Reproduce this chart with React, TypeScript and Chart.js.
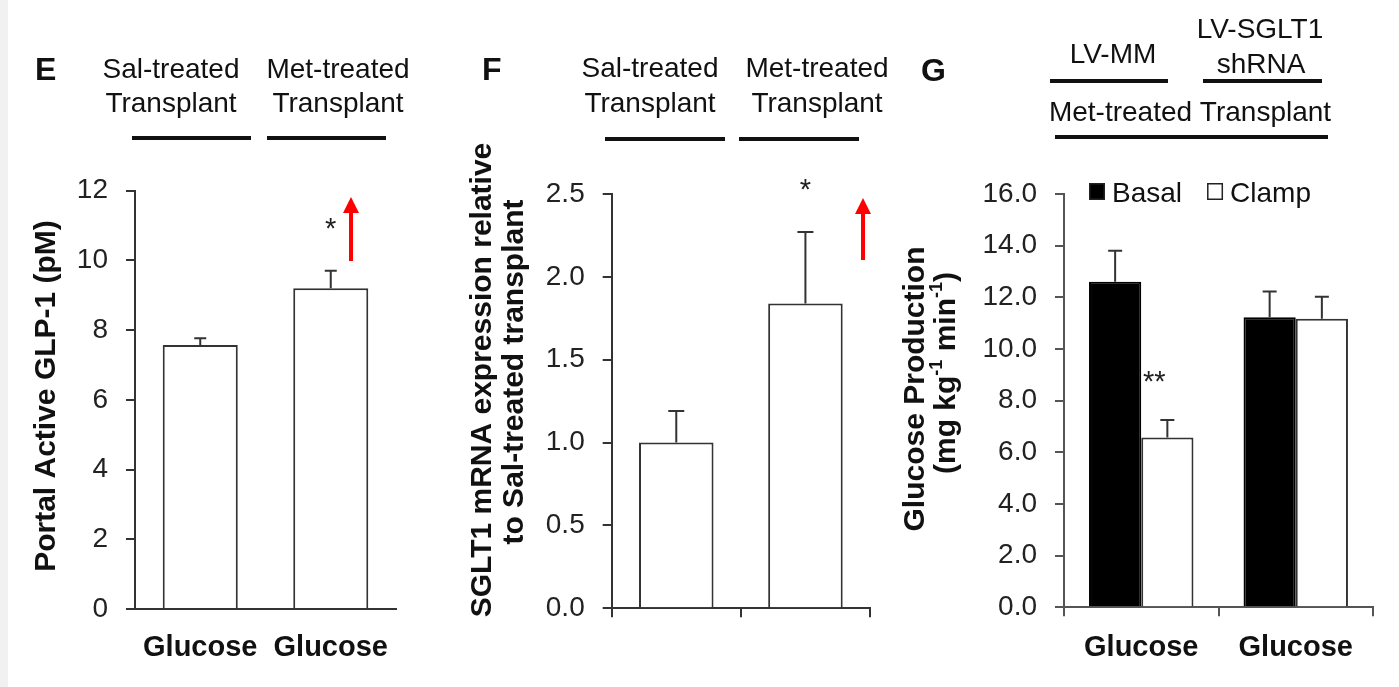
import React, { useEffect, useRef } from 'react';
import { Chart, registerables } from 'chart.js';

Chart.register(...registerables);

const FONT = "'Liberation Sans', Arial, Helvetica, sans-serif";
const PAGE_W = 1399;
const PAGE_H = 687;
const Y_W = 100;
const X_H = 60;

// ---------- Panel E data ----------
const eCategories = ['Glucose', 'Glucose'];
const eHeaders = [['Sal-treated', 'Transplant'], ['Met-treated', 'Transplant']];
const eValues = [7.57, 9.2];
const eErrors = [0.2, 0.5];
const eSignificance = ['', '*'];
const eYMax = 12;
const eYStep = 2;
const eYTitle = ['Portal Active GLP-1 (pM)'];

// ---------- Panel F data ----------
const fCategories = ['Sal-treated Transplant', 'Met-treated Transplant'];
const fHeaders = [['Sal-treated', 'Transplant'], ['Met-treated', 'Transplant']];
const fValues = [1.0, 1.84];
const fErrors = [0.19, 0.43];
const fSignificance = ['', '*'];
const fYMax = 2.5;
const fYStep = 0.5;
const fYTitle = ['SGLT1 mRNA expression relative', 'to Sal-treated transplant'];

// ---------- Panel G data ----------
const gCategories = ['Glucose', 'Glucose'];
const gGroupHeaders = [['LV-MM'], ['LV-SGLT1', 'shRNA']];
const gOuterHeader = 'Met-treated Transplant';
const gSeriesNames = ['Basal', 'Clamp'];
const gBasal = [12.6, 11.23];
const gBasalErrors = [1.2, 1.0];
const gClamp = [6.57, 11.17];
const gClampErrors = [0.68, 0.85];
const gClampSignificance = ['**', ''];
const gYMax = 16;
const gYStep = 2;

type Seg = { t: string; sup?: boolean };

function drawVText(ctx: CanvasRenderingContext2D, segs: Seg[], cx: number, cy: number, size: number) {
  ctx.save();
  ctx.translate(cx, cy);
  ctx.rotate(-Math.PI / 2);
  ctx.fillStyle = '#111';
  ctx.textBaseline = 'middle';
  ctx.textAlign = 'left';
  const fontFor = (s: Seg) => `bold ${s.sup ? Math.round(size * 0.6) : size}px ${FONT}`;
  let total = 0;
  const widths = segs.map((s) => {
    ctx.font = fontFor(s);
    const w = ctx.measureText(s.t).width;
    total += w;
    return w;
  });
  let x = -total / 2;
  segs.forEach((s, i) => {
    ctx.font = fontFor(s);
    ctx.fillText(s.t, x, s.sup ? -size * 0.32 : 0);
    x += widths[i];
  });
  ctx.restore();
}

function drawText(ctx: CanvasRenderingContext2D, text: string, x: number, y: number, font: string, align: CanvasTextAlign = 'center', color = '#111') {
  ctx.save();
  ctx.font = font;
  ctx.fillStyle = color;
  ctx.textAlign = align;
  ctx.textBaseline = 'alphabetic';
  ctx.fillText(text, x, y);
  ctx.restore();
}

function hLine(ctx: CanvasRenderingContext2D, x1: number, x2: number, y: number) {
  ctx.save();
  ctx.strokeStyle = '#111';
  ctx.lineWidth = 4;
  ctx.beginPath();
  ctx.moveTo(x1, y);
  ctx.lineTo(x2, y);
  ctx.stroke();
  ctx.restore();
}

function redArrow(ctx: CanvasRenderingContext2D, x: number, tipY: number, baseY: number) {
  ctx.save();
  ctx.strokeStyle = '#f00';
  ctx.fillStyle = '#f00';
  ctx.lineWidth = 4;
  ctx.beginPath();
  ctx.moveTo(x, baseY);
  ctx.lineTo(x, tipY + 12);
  ctx.stroke();
  ctx.beginPath();
  ctx.moveTo(x, tipY);
  ctx.lineTo(x - 8, tipY + 16);
  ctx.lineTo(x + 8, tipY + 16);
  ctx.closePath();
  ctx.fill();
  ctx.restore();
}

const errorBarPlugin = {
  id: 'errorBars',
  afterDatasetsDraw(chart: any) {
    const ctx = chart.ctx as CanvasRenderingContext2D;
    const yScale = chart.scales.y;
    chart.data.datasets.forEach((ds: any, di: number) => {
      if (!ds.errors) return;
      const meta = chart.getDatasetMeta(di);
      meta.data.forEach((el: any, i: number) => {
        const v = ds.data[i];
        const e = ds.errors[i];
        const y0 = yScale.getPixelForValue(v);
        const y1 = yScale.getPixelForValue(v + e);
        const cap = ds.capHalf || 7;
        ctx.save();
        ctx.strokeStyle = '#333';
        ctx.lineWidth = 2;
        ctx.beginPath();
        ctx.moveTo(el.x, y0);
        ctx.lineTo(el.x, y1);
        ctx.moveTo(el.x - cap, y1);
        ctx.lineTo(el.x + cap, y1);
        ctx.stroke();
        ctx.restore();
        const sig = ds.significance ? ds.significance[i] : '';
        if (sig) {
          drawText(ctx, sig, el.x + (ds.sigDx || 0), y1 - (ds.sigGap || 31), `29px ${FONT}`, 'center', '#222');
        }
      });
    });
  },
};

function baseOptions(area: { left: number; right: number; top: number; bottom: number }, yMax: number, yStep: number, decimals: number, axisColor: string, xGrid: any, showXLabels: boolean) {
  return {
    responsive: false,
    animation: false,
    events: [],
    layout: {
      padding: {
        left: area.left - Y_W,
        right: PAGE_W - area.right,
        top: area.top,
        bottom: PAGE_H - area.bottom - X_H,
      },
    },
    plugins: { legend: { display: false }, tooltip: { enabled: false }, title: { display: false } },
    scales: {
      x: {
        offset: true,
        ticks: {
          display: showXLabels,
          font: { family: FONT, size: 29, weight: 'bold' },
          color: '#111',
          padding: 14,
          maxRotation: 0,
          autoSkip: false,
        },
        grid: xGrid,
        border: { display: true, color: axisColor, width: 2 },
        afterFit: (s: any) => {
          s.height = X_H;
        },
      },
      y: {
        min: 0,
        max: yMax,
        ticks: {
          stepSize: yStep,
          font: { family: FONT, size: 28 },
          color: '#222',
          padding: 18,
          callback: (v: any) => Number(v).toFixed(decimals),
        },
        grid: { drawOnChartArea: false, drawTicks: true, tickLength: 9, color: axisColor, lineWidth: 2 },
        border: { display: true, color: axisColor, width: 2 },
        afterFit: (s: any) => {
          s.width = Y_W;
        },
      },
    },
  };
}

function buildE(canvas: HTMLCanvasElement) {
  const area = { left: 135, right: 396, top: 190.7, bottom: 609 };
  const annot = {
    id: 'annotE',
    afterDraw(chart: any) {
      const ctx = chart.ctx as CanvasRenderingContext2D;
      drawText(ctx, 'E', 35, 80, `bold 32px ${FONT}`, 'left');
      const centers = [171, 338];
      eHeaders.forEach((lines, i) => {
        drawText(ctx, lines[0], centers[i], 78, `28px ${FONT}`);
        drawText(ctx, lines[1], centers[i], 112, `28px ${FONT}`);
      });
      hLine(ctx, 132, 251, 138);
      hLine(ctx, 267, 386, 138);
      drawVText(ctx, [{ t: eYTitle[0] }], 47, 396, 30);
      redArrow(ctx, 351, 197, 261);
    },
  };
  return new Chart(canvas, {
    type: 'bar',
    data: {
      labels: eCategories,
      datasets: [
        {
          label: 'Portal Active GLP-1',
          data: eValues,
          errors: eErrors,
          significance: eSignificance,
          sigGap: 33,
          capHalf: 6,
          backgroundColor: '#fff',
          borderColor: '#333',
          borderWidth: 2,
          barPercentage: 0.575,
          categoryPercentage: 1,
        } as any,
      ],
    },
    options: baseOptions(area, eYMax, eYStep, 0, '#333', { display: true, drawOnChartArea: false, drawTicks: true, tickLength: 8, color: 'rgba(0,0,0,0)' }, true) as any,
    plugins: [errorBarPlugin, annot],
  });
}

function buildF(canvas: HTMLCanvasElement) {
  const area = { left: 611.7, right: 870, top: 194, bottom: 608.3 };
  const annot = {
    id: 'annotF',
    afterDraw(chart: any) {
      const ctx = chart.ctx as CanvasRenderingContext2D;
      drawText(ctx, 'F', 482, 80, `bold 32px ${FONT}`, 'left');
      const centers = [650, 817];
      fHeaders.forEach((lines, i) => {
        drawText(ctx, lines[0], centers[i], 77, `28px ${FONT}`);
        drawText(ctx, lines[1], centers[i], 112, `28px ${FONT}`);
      });
      hLine(ctx, 605, 725, 139);
      hLine(ctx, 739, 859, 139);
      drawVText(ctx, [{ t: fYTitle[0] }], 483, 380, 30);
      drawVText(ctx, [{ t: fYTitle[1] }], 515, 372, 30);
      redArrow(ctx, 863, 198, 260);
    },
  };
  return new Chart(canvas, {
    type: 'bar',
    data: {
      labels: fCategories,
      datasets: [
        {
          label: 'SGLT1 mRNA',
          data: fValues,
          errors: fErrors,
          significance: fSignificance,
          sigGap: 33,
          capHalf: 8,
          backgroundColor: '#fff',
          borderColor: '#333',
          borderWidth: 2,
          barPercentage: 0.577,
          categoryPercentage: 1,
        } as any,
      ],
    },
    options: baseOptions(area, fYMax, fYStep, 1, '#333', { display: true, drawOnChartArea: false, drawTicks: true, tickLength: 9, color: '#333', lineWidth: 2 }, false) as any,
    plugins: [errorBarPlugin, annot],
  });
}

function buildG(canvas: HTMLCanvasElement) {
  const area = { left: 1064, right: 1373, top: 194, bottom: 607.3 };
  const annot = {
    id: 'annotG',
    afterDraw(chart: any) {
      const ctx = chart.ctx as CanvasRenderingContext2D;
      drawText(ctx, 'G', 921, 81, `bold 32px ${FONT}`, 'left');
      drawText(ctx, gGroupHeaders[0][0], 1113, 63, `28px ${FONT}`);
      drawText(ctx, gGroupHeaders[1][0], 1260, 38, `28px ${FONT}`);
      drawText(ctx, gGroupHeaders[1][1], 1261, 73, `28px ${FONT}`);
      hLine(ctx, 1050, 1168, 81);
      hLine(ctx, 1203, 1322, 81);
      drawText(ctx, gOuterHeader, 1190, 121, `28px ${FONT}`);
      hLine(ctx, 1055, 1328, 137);
      drawVText(ctx, [{ t: 'Glucose Production' }], 916, 389, 30);
      drawVText(
        ctx,
        [{ t: '(mg kg' }, { t: '-1', sup: true }, { t: ' min' }, { t: '-1', sup: true }, { t: ')' }],
        947,
        373,
        30
      );
      // legend
      let x = 1089;
      chart.data.datasets.forEach((ds: any) => {
        ctx.save();
        ctx.fillStyle = ds.backgroundColor;
        ctx.fillRect(x, 183, 16, 17);
        ctx.strokeStyle = '#222';
        ctx.lineWidth = 1.5;
        ctx.strokeRect(x + 0.75, 183.75, 14.5, 15.5);
        ctx.restore();
        ctx.save();
        ctx.font = `28px ${FONT}`;
        const w = ctx.measureText(ds.label).width;
        ctx.restore();
        drawText(ctx, ds.label, x + 23, 202, `28px ${FONT}`, 'left', '#111');
        x += 23 + w + 25;
      });
    },
  };
  return new Chart(canvas, {
    type: 'bar',
    data: {
      labels: gCategories,
      datasets: [
        {
          label: gSeriesNames[0],
          data: gBasal,
          errors: gBasalErrors,
          capHalf: 7,
          backgroundColor: '#000',
          borderColor: '#000',
          borderWidth: 2,
          barPercentage: 1,
          categoryPercentage: 0.676,
        } as any,
        {
          label: gSeriesNames[1],
          data: gClamp,
          errors: gClampErrors,
          significance: gClampSignificance,
          sigDx: -13,
          sigGap: 29,
          capHalf: 7,
          backgroundColor: '#fff',
          borderColor: '#333',
          borderWidth: 2,
          barPercentage: 1,
          categoryPercentage: 0.676,
        } as any,
      ],
    },
    options: baseOptions(
      area,
      gYMax,
      gYStep,
      1,
      '#555',
      {
        display: true,
        drawOnChartArea: false,
        drawTicks: true,
        tickLength: 9,
        lineWidth: 2,
        color: (c: any) => (c.index === 2 ? 'rgba(0,0,0,0)' : '#555'),
      },
      true
    ) as any,
    plugins: [errorBarPlugin, annot],
  });
}

export default function App() {
  const eRef = useRef<HTMLCanvasElement>(null);
  const fRef = useRef<HTMLCanvasElement>(null);
  const gRef = useRef<HTMLCanvasElement>(null);

  useEffect(() => {
    const charts = [buildE(eRef.current!), buildF(fRef.current!), buildG(gRef.current!)];
    return () => charts.forEach((c) => c.destroy());
  }, []);

  const cStyle: React.CSSProperties = { position: 'absolute', left: 0, top: 0, width: PAGE_W, height: PAGE_H };
  return (
    <div style={{ position: 'fixed', left: 0, top: 0, width: PAGE_W, height: PAGE_H, background: '#fff', overflow: 'hidden' }}>
      <div style={{ position: 'absolute', left: 0, top: 0, width: 8, height: PAGE_H, background: '#f1f1f1' }} />
      <canvas ref={eRef} width={PAGE_W} height={PAGE_H} style={cStyle} />
      <canvas ref={fRef} width={PAGE_W} height={PAGE_H} style={cStyle} />
      <canvas ref={gRef} width={PAGE_W} height={PAGE_H} style={cStyle} />
    </div>
  );
}
